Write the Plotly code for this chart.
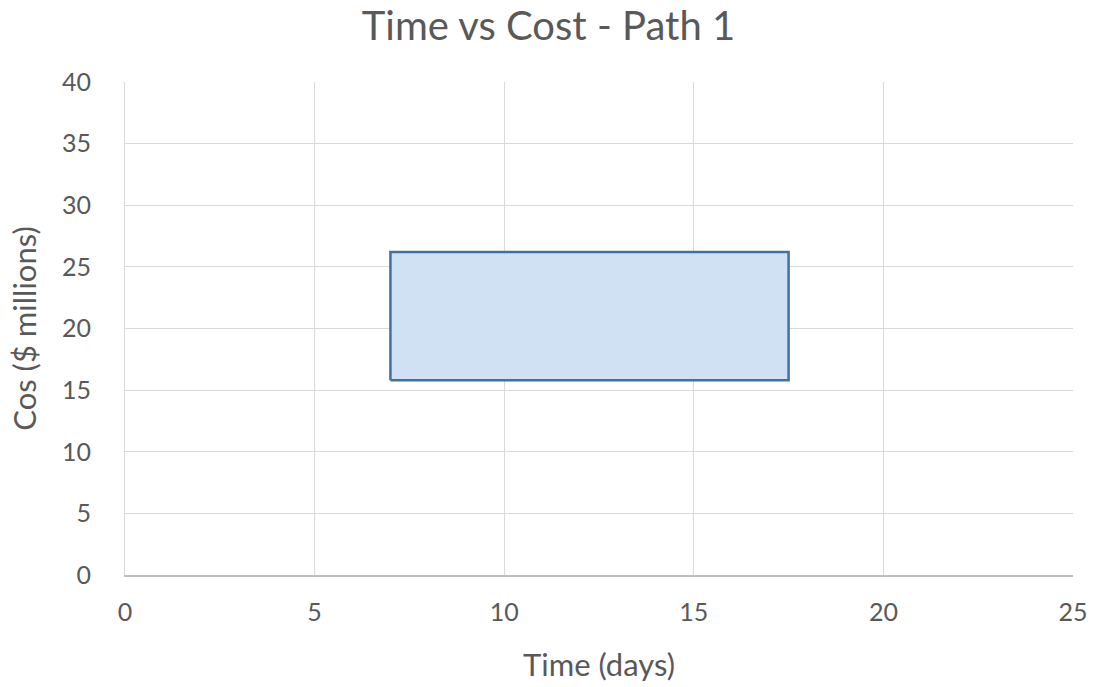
import plotly.graph_objects as go

# Time-cost envelope for path 1
time_days = [7, 17.5, 17.5, 7, 7]
cost_millions = [15.8, 15.8, 26.2, 26.2, 15.8]

x_ticks = [0, 5, 10, 15, 20, 25]
y_ticks = [0, 5, 10, 15, 20, 25, 30, 35, 40]

FONT = "Lato"
GREY = "#595959"

fig = go.Figure()
fig.add_trace(go.Scatter(
    x=time_days, y=cost_millions,
    mode="lines",
    fill="toself",
    fillcolor="#cfe1f2",
    line=dict(color="#41719c", width=2.5),
    hoverinfo="skip",
    showlegend=False,
))

fig.update_layout(
    width=1097, height=687,
    margin=dict(l=125, r=24, t=82, b=112),
    paper_bgcolor="white",
    plot_bgcolor="white",
    title=dict(text="Time vs Cost - Path 1", x=0.5, xanchor="center",
               y=0.962, yanchor="middle",
               font=dict(family=FONT, size=40, color=GREY)),
    xaxis=dict(range=[0, 25], tickvals=x_ticks, showgrid=True,
               gridcolor="#d9d9d9", gridwidth=1, zeroline=False,
               showline=True, linecolor="#bfbfbf", linewidth=1.5,
               ticks="", ticklabelstandoff=14, automargin=False,
               tickfont=dict(family=FONT, size=25, color=GREY),
               title=dict(text="Time (days)", standoff=30,
                          font=dict(family=FONT, size=31, color=GREY))),
    yaxis=dict(range=[0, 40], tickvals=y_ticks, showgrid=True,
               gridcolor="#d9d9d9", gridwidth=1, zeroline=False,
               showline=True, linecolor="#d9d9d9", linewidth=1,
               ticks="", ticklabelstandoff=28, automargin=False,
               tickfont=dict(family=FONT, size=25, color=GREY),
               title=dict(text="Cos ($ millions)", standoff=16,
                          font=dict(family=FONT, size=31, color=GREY))),
)

fig.write_html("out.html")
